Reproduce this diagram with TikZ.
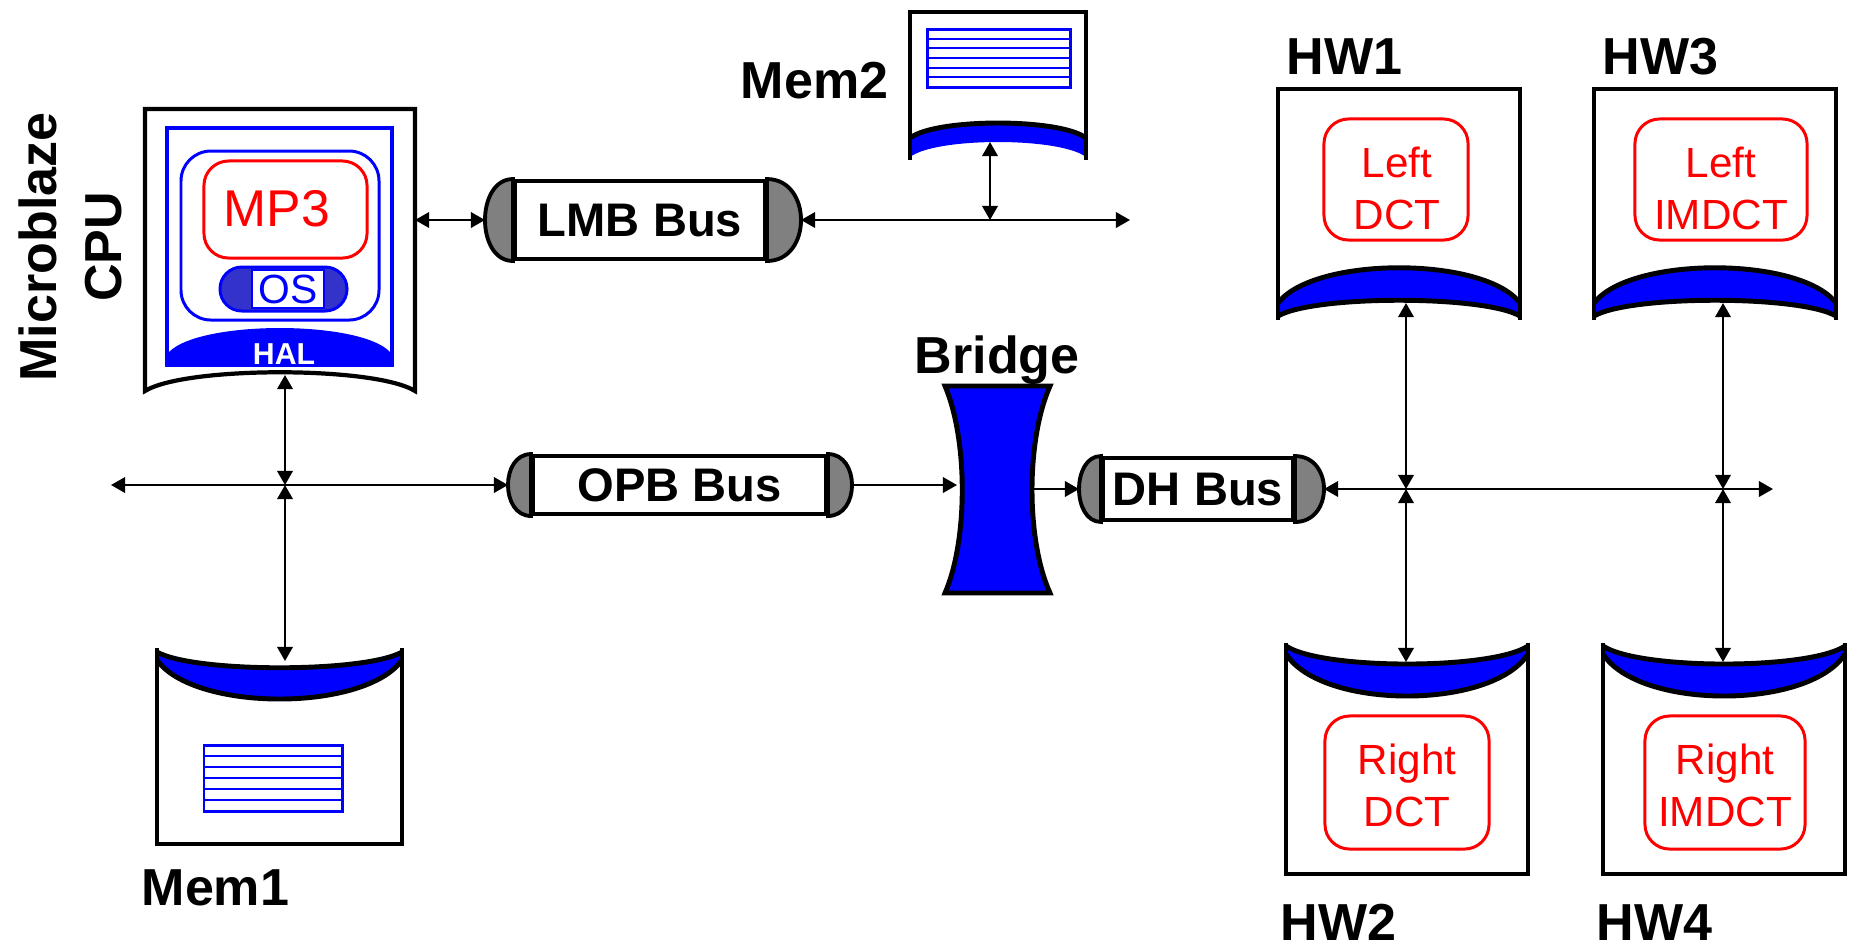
\documentclass[tikz,border=0pt]{standalone}
\usepackage{fontspec}
\setmainfont{Liberation Sans}
\usetikzlibrary{arrows.meta,calc}

\definecolor{capgray}{HTML}{808080}
\definecolor{busblue}{HTML}{0000FF}
\definecolor{taskred}{HTML}{FF0000}
\definecolor{osfill}{HTML}{3333CC}

% gray end caps of a bus node: #1 node name, #2 left bulge, #3 right bulge
\newcommand\buscaps[3]{%
  \filldraw[fill=capgray, line width=1.1pt]
    (#1.north west) .. controls ($(#1.north west)+(-1.333*#2,0)$) and ($(#1.south west)+(-1.333*#2,0)$) .. (#1.south west) -- cycle;
  \filldraw[fill=capgray, line width=1.1pt]
    (#1.north east) .. controls ($(#1.north east)+(1.333*#3,0)$) and ($(#1.south east)+(1.333*#3,0)$) .. (#1.south east) -- cycle;
  \coordinate (#1-w) at ($(#1.west)+(-#2,0)$);
  \coordinate (#1-e) at ($(#1.east)+(#3,0)$);
}

% striped memory array: corners (#1,#2) and (#3,#4)
\newcommand\memstripes[4]{%
  \draw[busblue, line width=0.85pt] (#1,#2) rectangle (#3,#4);
  \foreach \k in {1,...,5}{
    \pgfmathsetmacro\yy{#2+\k*(#4-#2)/6}
    \draw[busblue, line width=0.6pt] (#1,\yy) -- (#3,\yy);
  }
}

% hardware block with its port at the bottom, left side at x=#1
\newcommand\hwupper[1]{%
  \begin{scope}[shift={(#1,0)}]
    \fill[busblue] (0,303) .. controls (36,256) and (206,256) .. (242,303)
      -- (242,316) .. controls (206,295) and (36,295) .. (0,316) -- cycle;
    \draw[boxline] (0,320) -- (0,89) -- (242,89) -- (242,320);
    \draw[boxline] (0,303) .. controls (36,256) and (206,256) .. (242,303);
    \draw[boxline] (0,316) .. controls (36,295) and (206,295) .. (242,316);
  \end{scope}}

% hardware block with its port at the top, left side at x=#1
\newcommand\hwlower[1]{%
  \begin{scope}[shift={(#1,0)}]
    \fill[busblue] (0,646) .. controls (36,670) and (206,670) .. (242,646)
      -- (242,654) .. controls (206,710) and (36,710) .. (0,654) -- cycle;
    \draw[boxline] (0,643) -- (0,874) -- (242,874) -- (242,643);
    \draw[boxline] (0,646) .. controls (36,670) and (206,670) .. (242,646);
    \draw[boxline] (0,654) .. controls (36,710) and (206,710) .. (242,654);
  \end{scope}}

\begin{document}
\begin{tikzpicture}[
  x=0.01cm, y=-0.01cm,
  boxline/.style={draw=black, line width=1.4pt},
  conn/.style={line width=0.6pt, {Triangle[length=4pt,width=4.4pt]}-{Triangle[length=4pt,width=4.4pt]}},
  conn to/.style={line width=0.6pt, -{Triangle[length=4pt,width=4.4pt]}},
  busbox/.style={draw=black, fill=white, line width=1.1pt, inner sep=0pt,
    font=\fontsize{13.4}{15}\selectfont\bfseries},
  title/.style={font=\fontsize{14.8}{17}\selectfont\bfseries, inner sep=0pt},
  taskbox/.style={draw=taskred, line width=0.85pt, rounded corners=7pt, inner sep=0pt},
  tasktext/.style={text=taskred, align=center, inner sep=0pt,
    font=\fontsize{12}{14.8}\selectfont},
]
\useasboundingbox (0,0) rectangle (1849,947);

% ---------------- Microblaze CPU ----------------
\node[title, rotate=90, align=center, font=\fontsize{14.8}{18.5}\selectfont\bfseries]
  (cpulabel) at (70,247) {Microblaze\\CPU};
\filldraw[fill=white, draw=black, line width=1.2pt]
  (145,109) -- (415,109) -- (415,391) .. controls (375,366) and (185,366) .. (145,391) -- cycle;
\draw[busblue, line width=1.4pt] (167,128) rectangle (392,365);
\fill[busblue] (169,363) -- (169,352) .. controls (200,320) and (360,320) .. (390,352) -- (390,363) -- cycle;
\node[text=white, font=\fontsize{8.6}{10}\selectfont\bfseries, inner sep=0pt] (hal) at (284,354) {HAL};
\draw[busblue, line width=0.85pt, rounded corners=8.5pt] (181,151) rectangle (379,320);
\node[taskbox, minimum width=1.63cm, minimum height=0.97cm] (mp3box) at (285.5,209.5) {};
\node[text=taskred, font=\fontsize{14.7}{17}\selectfont, inner sep=0pt] (mp3) at (277,209) {MP3};
\filldraw[fill=osfill, draw=busblue, line width=0.85pt, rounded corners=6.2pt] (220,267) rectangle (347,311);
\node[draw=busblue, fill=white, line width=0.6pt, minimum width=0.72cm, minimum height=0.38cm,
  inner sep=0pt, text=busblue, font=\fontsize{11.6}{13}\selectfont] (os) at (288,289) {OS};
\coordinate (cpu-e) at (415,220);
\coordinate (cpu-s) at (285,375);

% ---------------- LMB bus and Mem2 ----------------
\node[busbox, minimum width=2.5cm, minimum height=0.78cm] (lmb) at (640,220) {LMB Bus};
\buscaps{lmb}{28}{34}

\fill[busblue] (910,138) .. controls (936,118) and (1060,118) .. (1086,138)
  -- (1086,157) .. controls (1060,137) and (936,137) .. (910,157) -- cycle;
\draw[boxline] (910,160) -- (910,12) -- (1086,12) -- (1086,160);
\draw[boxline] (910,138) .. controls (936,118) and (1060,118) .. (1086,138);
\memstripes{927}{29}{1070}{87}
\node[title, anchor=base east] (mem2label) at (889,98) {Mem2};
\coordinate (mem2-s) at (990,142);
\coordinate (lmb-tap) at (990,220);
\coordinate (lmb-end) at (1130,220);

% ---------------- OPB bus and Mem1 ----------------
\node[busbox, minimum width=2.93cm, minimum height=0.58cm] (opb) at (679.5,485) {OPB Bus};
\buscaps{opb}{23}{24}
\coordinate (opb-tap) at (285,485);
\coordinate (opb-end) at (111,485);

\fill[busblue] (157,652) .. controls (194,673) and (365,673) .. (402,652)
  -- (402,660) .. controls (365,712) and (194,712) .. (157,660) -- cycle;
\draw[boxline] (157,648) -- (157,844) -- (402,844) -- (402,648);
\draw[boxline] (157,652) .. controls (194,673) and (365,673) .. (402,652);
\draw[boxline] (157,660) .. controls (194,712) and (365,712) .. (402,660);
\memstripes{204}{745}{342}{811}
\node[title, anchor=base west] (mem1label) at (141,905) {Mem1};
\coordinate (mem1-n) at (285,661);

% ---------------- Bridge ----------------
\filldraw[fill=busblue, draw=black, line width=1.4pt]
  (945,386) -- (1050,386) .. controls (1026,440) and (1026,540) .. (1050,593)
  -- (945,593) .. controls (968,540) and (968,440) .. (945,386) -- cycle;
\node[title, anchor=base west] (bridgelabel) at (914,373) {Bridge};
\coordinate (bridge-w) at (957,485);
\coordinate (bridge-e) at (1032,489);

% ---------------- DH bus ----------------
\node[busbox, minimum width=1.9cm, minimum height=0.62cm] (dh) at (1198,489) {DH Bus};
\buscaps{dh}{22}{29}
\coordinate (dh-tap1) at (1406,489);
\coordinate (dh-tap2) at (1723,489);
\coordinate (dh-end) at (1773,489);

% ---------------- Hardware blocks ----------------
\hwupper{1278}
\node[taskbox, minimum width=1.44cm, minimum height=1.21cm] (hw1box) at (1396,179.5) {};
\node[tasktext] (hw1text) at (1397,188.5) {Left\\DCT};
\node[title, anchor=base west] (hw1label) at (1286,74) {HW1};
\coordinate (hw1-s) at (1406,303);

\hwupper{1594}
\node[taskbox, minimum width=1.72cm, minimum height=1.21cm] (hw3box) at (1721,179.5) {};
\node[tasktext] (hw3text) at (1721,188.5) {Left\\IMDCT};
\node[title, anchor=base west] (hw3label) at (1602,74) {HW3};
\coordinate (hw3-s) at (1723,303);

\hwlower{1286}
\node[taskbox, minimum width=1.64cm, minimum height=1.33cm] (hw2box) at (1407,782.5) {};
\node[tasktext] (hw2text) at (1407,785) {Right\\DCT};
\node[title, anchor=base west] (hw2label) at (1280,940) {HW2};
\coordinate (hw2-n) at (1406,662);

\hwlower{1603}
\node[taskbox, minimum width=1.6cm, minimum height=1.33cm] (hw4box) at (1725,782.5) {};
\node[tasktext] (hw4text) at (1725,785) {Right\\IMDCT};
\node[title, anchor=base west] (hw4label) at (1596,940) {HW4};
\coordinate (hw4-n) at (1723,662);

% ---------------- Connectors ----------------
\draw[conn] (cpu-e) -- (lmb-w);
\draw[conn] (lmb-e) -- (lmb-end);
\draw[conn] (mem2-s) -- (lmb-tap);
\draw[conn] (opb-end) -- (opb-w);
\draw[conn] (cpu-s) -- (opb-tap);
\draw[conn] (mem1-n) -- (opb-tap);
\draw[conn to] (opb-e) -- (bridge-w);
\draw[conn to] (bridge-e) -- (dh-w);
\draw[conn] (dh-e) -- (dh-end);
\draw[conn] (hw1-s) -- (dh-tap1);
\draw[conn] (hw2-n) -- (dh-tap1);
\draw[conn] (hw3-s) -- (dh-tap2);
\draw[conn] (hw4-n) -- (dh-tap2);
\end{tikzpicture}
\end{document}
